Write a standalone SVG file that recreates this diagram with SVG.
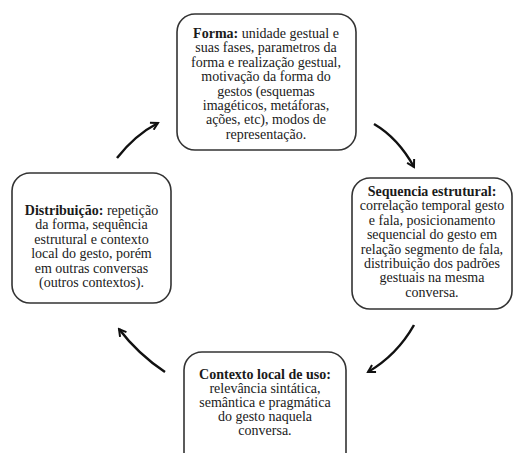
<svg xmlns="http://www.w3.org/2000/svg" width="515" height="453" viewBox="0 0 515 453">
<defs>
<style>
.box{fill:#fff;stroke:#333;stroke-width:1.6}
.t{font-family:"Liberation Serif","Times New Roman",serif;font-size:14px;fill:#1a1a1a;text-anchor:middle}
.b{font-weight:bold}
.arr{fill:none;stroke:#111;stroke-width:2.5;marker-end:url(#ah)}
</style>
<marker id="ah" viewBox="0 0 10 10" refX="8" refY="5" markerWidth="4" markerHeight="4" orient="auto" markerUnits="strokeWidth">
<path d="M1,1 L8,5 L1,9" fill="none" stroke="#111" stroke-width="2"/>
</marker>
</defs>
<rect width="515" height="453" fill="#fff"/>
<g id="connectors">
<path class="arr" d="M117,158 Q135,135 158,123"/>
<path class="arr" d="M374,124 Q398,138 414,167"/>
<path class="arr" d="M414,325 Q397,355 368,372"/>
<path class="arr" d="M165,372 Q138,354 119,329"/>
</g>
<g id="forma">
<rect class="box" x="177" y="14" width="179" height="136" rx="18"/>
<text class="t" x="266" y="38"><tspan class="b">Forma:</tspan> unidade gestual e</text>
<text class="t" x="266" y="52.4">suas fases, parametros da</text>
<text class="t" x="266" y="66.8">forma e realização gestual,</text>
<text class="t" x="266" y="81.2">motivação da forma do</text>
<text class="t" x="266" y="95.6">gestos (esquemas</text>
<text class="t" x="266" y="110">imagéticos, metáforas,</text>
<text class="t" x="266" y="124.4">ações, etc), modos de</text>
<text class="t" x="266" y="138.8">representação.</text>
</g>
<g id="sequencia">
<rect class="box" x="352" y="178" width="160" height="131" rx="18"/>
<text class="t b" x="432" y="196">Sequencia estrutural:</text>
<text class="t" x="432" y="210.4">correlação temporal gesto</text>
<text class="t" x="432" y="224.8">e fala, posicionamento</text>
<text class="t" x="432" y="239.2">sequencial do gesto em</text>
<text class="t" x="432" y="253.6">relação segmento de fala,</text>
<text class="t" x="432" y="268">distribuição dos padrões</text>
<text class="t" x="432" y="282.4">gestuais na mesma</text>
<text class="t" x="432" y="296.8">conversa.</text>
</g>
<g id="distribuicao">
<rect class="box" x="12" y="173" width="159" height="130" rx="18"/>
<text class="t" x="91.5" y="215"><tspan class="b">Distribuição:</tspan> repetição</text>
<text class="t" x="91.5" y="229.4">da forma, sequência</text>
<text class="t" x="91.5" y="243.8">estrutural e contexto</text>
<text class="t" x="91.5" y="258.2">local do gesto, porém</text>
<text class="t" x="91.5" y="272.6">em outras conversas</text>
<text class="t" x="91.5" y="287">(outros contextos).</text>
</g>
<g id="contexto">
<rect class="box" x="184" y="352" width="162" height="120" rx="18"/>
<text class="t b" x="265" y="379">Contexto local de uso:</text>
<text class="t" x="265" y="393">relevância sintática,</text>
<text class="t" x="265" y="407">semântica e pragmática</text>
<text class="t" x="265" y="421">do gesto naquela</text>
<text class="t" x="265" y="435">conversa.</text>
</g>
</svg>
